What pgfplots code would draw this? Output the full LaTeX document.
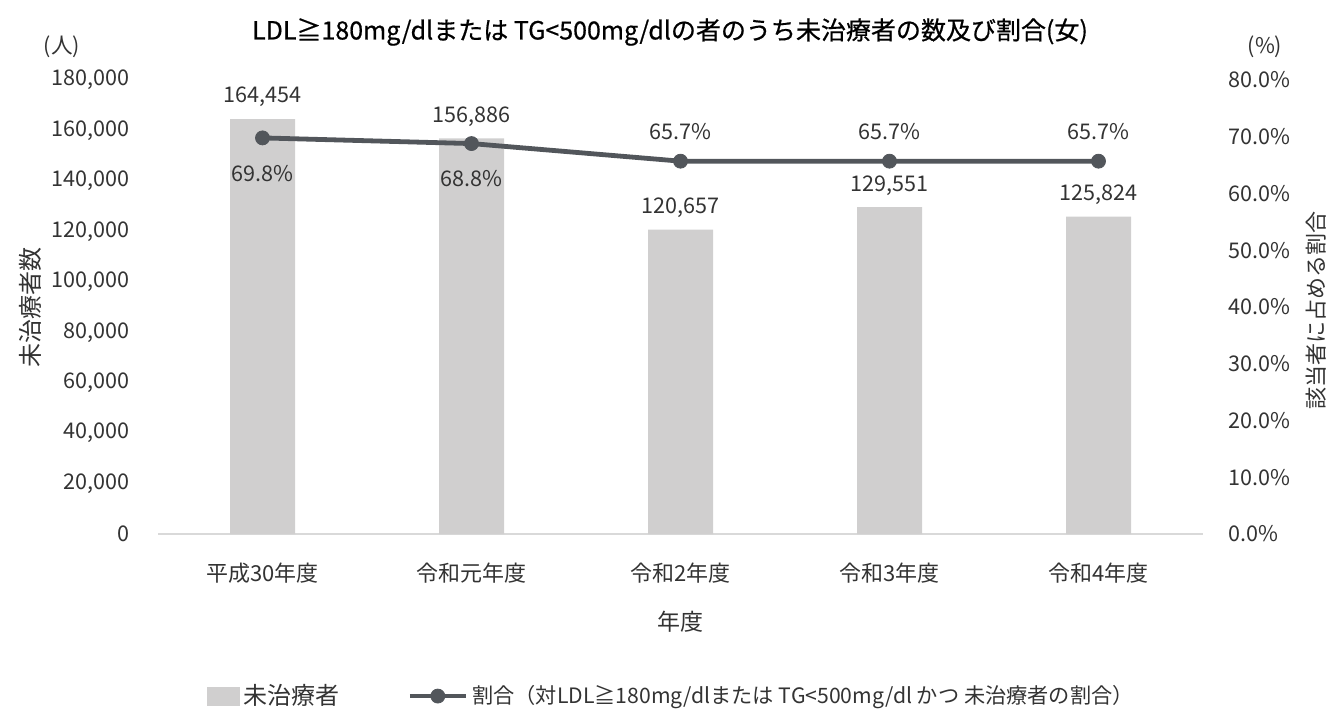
\documentclass[border=0pt]{standalone}
\usepackage{pgfplots}
\pgfplotsset{compat=1.18}
\usepackage{pgfplotstable}
\usepackage{fontspec}
\setmainfont{Noto Sans CJK JP}
\newfontfamily\titlefont[FakeBold=0.6]{Noto Sans CJK JP}
\definecolor{barcol}{HTML}{D0CFCF}
\definecolor{linecol}{HTML}{52565B}
\definecolor{basecol}{HTML}{D9D9D9}
\definecolor{txtcol}{HTML}{333333}

% legend images
\pgfplotsset{
  linelegend/.style={
    legend image code/.code={%
      \draw[mark repeat=2, mark phase=2, ##1] plot coordinates {(0pt,0pt) (14pt,0pt) (28pt,0pt)};}
  },
  barlegend/.style={
    legend image code/.code={\fill[barcol] (0pt,-4.5pt) rectangle (16pt,4.5pt);}
  },
}

% 未治療者数
\pgfplotstableread{
x count
0 164454
1 156886
2 120657
3 129551
4 125824
}\counttable

% 割合 (%), off = label offset from the point in pt
\pgfplotstableread{
x rate off
0 69.8 -18
1 68.8 -17.5
2 65.7 15
3 65.7 15
4 65.7 15
}\ratetable

\begin{document}
\begin{tikzpicture}[x=1pt, y=1pt, font=\fontsize{10.8}{13}\selectfont, text=txtcol]
\path[use as bounding box] (0,0) rectangle (663.5,354);
\pgfplotsset{
  common/.style={
    at={(79pt,87pt)}, anchor=south west,
    scale only axis, width=522.5pt, height=227pt,
    xmin=-0.5, xmax=4.5,
    tick style={draw=none},
    /pgf/number format/assume math mode=true,
    clip=false,
  }
}
\begin{axis}[common,
  axis x line*=bottom, axis y line*=left,
  x axis line style={draw=basecol, line width=1pt},
  y axis line style={draw=none},
  ymin=0, ymax=180000,
  ytick={0,20000,...,180000},
  scaled y ticks=false,
  y tick label style={/pgf/number format/fixed, /pgf/number format/1000 sep={,},
    anchor=east, inner sep=0pt, xshift=-14pt},
  xtick=data,
  xticklabels={平成30年度,令和元年度,令和2年度,令和3年度,令和4年度},
  x tick label style={anchor=center, inner sep=0pt, yshift=-19.5pt, font=\fontsize{11}{13}\selectfont},
]
\addplot[ybar, bar width=32.5pt, fill=barcol, draw=none,
  point meta=explicit,
  nodes near coords={\pgfmathprintnumber[fixed, precision=0, 1000 sep={,}]{\pgfplotspointmeta}},
  every node near coord/.append style={anchor=center, yshift=11pt, text=txtcol}]
  table[x=x, y=count, meta=count] {\counttable};
\end{axis}
\begin{axis}[common,
  axis x line=none,
  axis y line*=right,
  y axis line style={draw=none},
  ymin=0, ymax=80, ytick={0,10,...,80},
  yticklabel={\pgfmathprintnumber[fixed, fixed zerofill, precision=1]{\tick}\%},
  y tick label style={anchor=west, inner sep=0pt, xshift=12.5pt},
  legend style={draw=none, fill=none, at={(0.492,-0.357)}, anchor=center,
    font=\fontsize{10.6}{13}\selectfont,
    nodes={inner xsep=2pt},
    /tikz/every even column/.append style={column sep=32pt}},
  legend columns=2,
]
\addlegendimage{barlegend}
\addlegendentry{\fontsize{12}{13}\selectfont 未治療者}
\addplot[linecol, line width=2.4pt, mark=*, mark size=3.5pt,
  mark options={fill=linecol, draw=linecol, line width=0.4pt},
  linelegend,
  point meta=y,
  visualization depends on={\thisrow{off} \as \off},
  nodes near coords={\pgfmathprintnumber[fixed, fixed zerofill, precision=1]{\pgfplotspointmeta}\%},
  every node near coord/.append style={anchor=center, yshift=\off pt, text=txtcol}]
  table[x=x, y=rate] {\ratetable};
\addlegendentry{割合（対LDL≧180mg/dlまたは TG<500mg/dl かつ 未治療者の割合）}
\end{axis}
\node[font=\titlefont\fontsize{12.5}{15}\selectfont, text=black] at (335,338) {LDL≧180mg/dlまたは TG<500mg/dlの者のうち未治療者の数及び割合(女)};
\node at (31,330.5) {(人)};
\node at (632.5,330.5) {(\%)};
\node[rotate=90, font=\fontsize{12}{13}\selectfont] at (15,200.5) {未治療者数};
\node[rotate=90, font=\fontsize{11}{13}\selectfont] at (658,199) {該当者に占める割合};
\node[font=\fontsize{11.5}{13}\selectfont] at (340,43) {年度};
\end{tikzpicture}
\end{document}
